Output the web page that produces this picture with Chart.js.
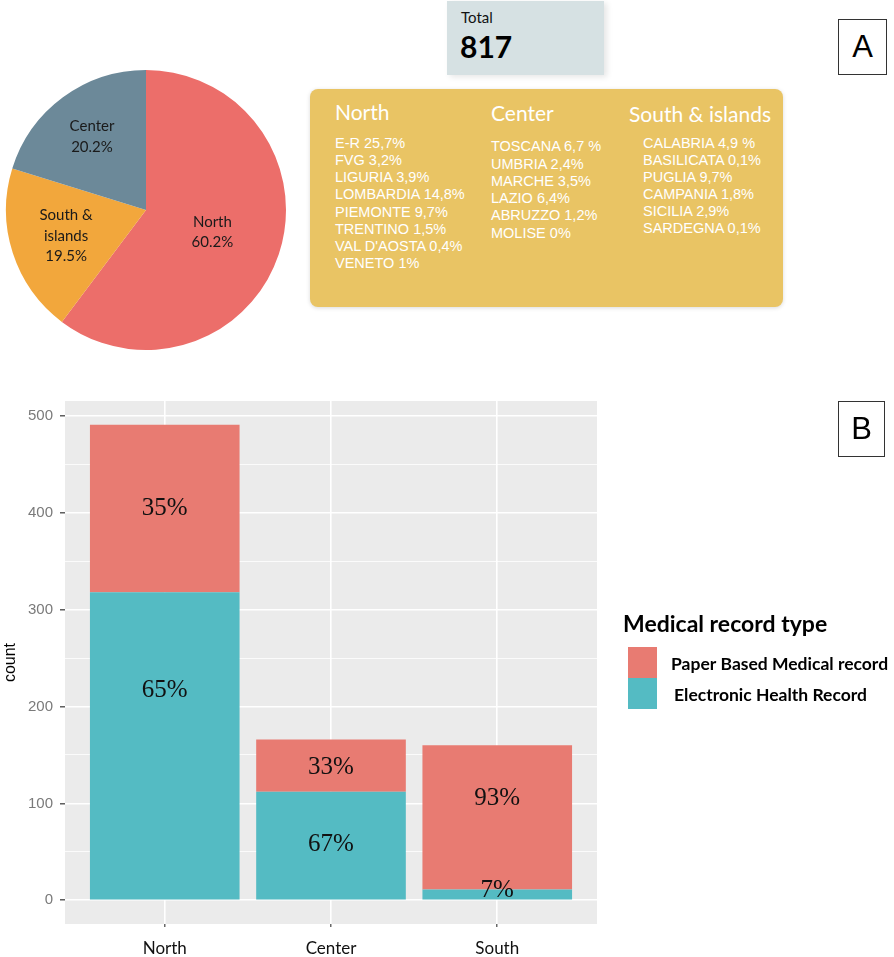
<!DOCTYPE html>
<html><head><meta charset="utf-8">
<script src="https://cdn.jsdelivr.net/npm/chart.js@4.4.1/dist/chart.umd.min.js"></script>
<style>
html,body{margin:0;padding:0;background:#fff;}
#page{position:relative;width:894px;height:957px;overflow:hidden;background:#fff;}
.abs{position:absolute;}
#total{left:447px;top:1px;width:157px;height:74px;background:#D6E1E3;box-shadow:3px 2px 6px rgba(0,0,0,0.10);}
#totalLbl{left:14px;top:7px;font:15px Lato;line-height:1.2;color:#111;}
#totalVal{left:13px;top:27px;font:bold 30px Lato;line-height:1.2;color:#000;}
#regions{left:310px;top:89px;width:473px;height:218px;background:#E9C464;border-radius:8px;box-shadow:0 1px 4px rgba(0,0,0,0.15);}
.head{font:21px Lato;color:#fff;line-height:24px;white-space:nowrap;}
.list{font:14.5px "Liberation Sans";color:#fff;white-space:nowrap;}
.tag{box-sizing:border-box;border:1.5px solid #333;font:31px "Liberation Sans";color:#000;display:flex;align-items:center;justify-content:center;}
</style></head>
<body>
<div id="page">
  <canvas id="pie" class="abs" width="292" height="300" style="left:0;top:60px"></canvas>
  <div id="total" class="abs"><div id="totalLbl" class="abs"></div><div id="totalVal" class="abs"></div></div>
  <div id="regions" class="abs"></div>
  <div class="abs tag" style="left:838px;top:19px;width:49px;height:56px">A</div>
  <canvas id="bar" class="abs" width="894" height="577" style="left:0;top:380px"></canvas>
  <div class="abs tag" style="left:838px;top:401px;width:47px;height:56px">B</div>
</div>
<script>
// ---------- Panel A data ----------
const pieCategories = ['North', 'South & islands', 'Center'];
const pieShares = [60.2, 19.5, 20.2];
const pieColors = ['#EC6E6A', '#F2A73C', '#6C8999'];
const pieLabelRadius = [0.5, 0.6, 0.65];
const totalLabel = 'Total';
const totalCount = 817;
const regionHeads = ['North', 'Center', 'South & islands'];
const northRegions = ['E-R 25,7%', 'FVG 3,2%', 'LIGURIA 3,9%', 'LOMBARDIA 14,8%', 'PIEMONTE 9,7%', 'TRENTINO 1,5%', "VAL D'AOSTA 0,4%", 'VENETO 1%'];
const centerRegions = ['TOSCANA 6,7 %', 'UMBRIA 2,4%', 'MARCHE 3,5%', 'LAZIO 6,4%', 'ABRUZZO 1,2%', 'MOLISE 0%'];
const southRegions = ['CALABRIA 4,9 %', 'BASILICATA 0,1%', 'PUGLIA 9,7%', 'CAMPANIA 1,8%', 'SICILIA 2,9%', 'SARDEGNA 0,1%'];

// ---------- Panel B data ----------
const categories = ['North', 'Center', 'South'];
const ehrCounts = [318, 112, 11];
const paperCounts = [173, 54, 149];
const seriesNames = ['Paper Based Medical record', 'Electronic Health Record'];
const legendTitle = 'Medical record type';
const yMajorTicks = [0, 100, 200, 300, 400, 500];
const yMinorTicks = [50, 150, 250, 350, 450];
const paperLabelAt = [405, 137, 105];
const ehrLabelAt = [217, 58, 10.6];

// ---------- HTML text blocks ----------
document.getElementById('totalLbl').textContent = totalLabel;
document.getElementById('totalVal').textContent = String(totalCount);
(function(){
  const box = document.getElementById('regions');
  const cols = [
    {head: regionHeads[0], hx: 25, hy: 10.5, list: northRegions, lx: 25, ly: 46, lh: 17.15},
    {head: regionHeads[1], hx: 181, hy: 11.5, list: centerRegions, lx: 181, ly: 49.3, lh: 17.3},
    {head: regionHeads[2], hx: 319, hy: 13, list: southRegions, lx: 333, ly: 46, lh: 17.1}
  ];
  cols.forEach(c => {
    const h = document.createElement('div');
    h.className = 'abs head'; h.style.left = c.hx + 'px'; h.style.top = c.hy + 'px';
    h.textContent = c.head; box.appendChild(h);
    const l = document.createElement('div');
    l.className = 'abs list'; l.style.left = c.lx + 'px'; l.style.top = c.ly + 'px';
    l.style.lineHeight = c.lh + 'px';
    c.list.forEach(t => { const d = document.createElement('div'); d.textContent = t; l.appendChild(d); });
    box.appendChild(l);
  });
})();

// ---------- Pie ----------
const pieLabelPlugin = {
  id: 'pieLabels',
  afterDatasetsDraw(chart) {
    const ctx = chart.ctx;
    const meta = chart.getDatasetMeta(0);
    ctx.save();
    ctx.font = '15px Lato';
    ctx.fillStyle = '#1a1a1a';
    ctx.textAlign = 'center';
    ctx.textBaseline = 'middle';
    meta.data.forEach((arc, i) => {
      const p = arc.getProps(['x', 'y', 'startAngle', 'endAngle', 'outerRadius'], true);
      const mid = (p.startAngle + p.endAngle) / 2;
      const r = p.outerRadius * pieLabelRadius[i];
      const cx = p.x + Math.cos(mid) * r;
      const cy = p.y + Math.sin(mid) * r;
      const name = pieCategories[i];
      const lines = name.includes(' & ') ? [name.split(' & ')[0] + ' &', name.split(' & ')[1]] : [name];
      lines.push(pieShares[i].toFixed(1) + '%');
      const lh = 20.5;
      const y0 = cy - (lines.length - 1) * lh / 2;
      lines.forEach((t, k) => ctx.fillText(t, cx, y0 + k * lh));
    });
    ctx.restore();
  }
};
new Chart(document.getElementById('pie'), {
  type: 'pie',
  data: {
    labels: pieCategories,
    datasets: [{data: pieShares, backgroundColor: pieColors, borderWidth: 0, hoverOffset: 0, radius: 140}]
  },
  options: {
    responsive: false, animation: false, devicePixelRatio: 1,
    layout: {padding: 0},
    plugins: {legend: {display: false}, tooltip: {enabled: false}}
  },
  plugins: [pieLabelPlugin]
});

// ---------- Bar ----------
const totals = categories.map((c, i) => ehrCounts[i] + paperCounts[i]);
const maxTotal = Math.max(...totals);
const PAPER = '#E87B72', EHR = '#54BBC3';

const panelBg = {
  id: 'panelBg',
  beforeDraw(chart) {
    const {ctx, chartArea: a} = chart;
    ctx.save(); ctx.fillStyle = '#EBEBEB';
    ctx.fillRect(a.left, a.top, a.right - a.left, a.bottom - a.top);
    ctx.restore();
  }
};
const pctLabels = {
  id: 'pctLabels',
  afterDatasetsDraw(chart) {
    const {ctx} = chart; const y = chart.scales.y;
    ctx.save();
    ctx.font = '25px "Liberation Serif"';
    ctx.fillStyle = '#111';
    ctx.textAlign = 'center'; ctx.textBaseline = 'middle';
    [[0, ehrCounts, ehrLabelAt], [1, paperCounts, paperLabelAt]].forEach(([di, vals, at]) => {
      chart.getDatasetMeta(di).data.forEach((bar, i) => {
        const pct = Math.round(vals[i] / totals[i] * 100) + '%';
        ctx.fillText(pct, bar.x, y.getPixelForValue(at[i]));
      });
    });
    ctx.restore();
  }
};
const ggLegend = {
  id: 'ggLegend',
  afterDraw(chart) {
    const ctx = chart.ctx;
    ctx.save();
    ctx.textAlign = 'left'; ctx.textBaseline = 'middle';
    ctx.font = 'bold 23px Lato'; ctx.fillStyle = '#000';
    ctx.fillText(legendTitle, 623, 245);
    [1, 0].forEach((di, k) => {
      const ds = chart.data.datasets[di];
      const top = 267 + k * 31;
      ctx.fillStyle = ds.backgroundColor;
      ctx.fillRect(628, top, 29, 31);
      ctx.fillStyle = '#000'; ctx.font = 'bold 17.5px Lato';
      ctx.fillText(ds.label, 671 + k * 3, top + 17.5);
    });
    ctx.restore();
  }
};

new Chart(document.getElementById('bar'), {
  type: 'bar',
  data: {
    datasets: [
      {label: seriesNames[1], data: categories.map((c, i) => ({x: i + 1, y: ehrCounts[i]})), backgroundColor: EHR, stack: 's', borderWidth: 0, barPercentage: 0.9, categoryPercentage: 1},
      {label: seriesNames[0], data: categories.map((c, i) => ({x: i + 1, y: paperCounts[i]})), backgroundColor: PAPER, stack: 's', borderWidth: 0, barPercentage: 0.9, categoryPercentage: 1}
    ]
  },
  options: {
    responsive: false, animation: false, devicePixelRatio: 1,
    layout: {padding: {left: 0, top: 21, right: 297, bottom: 0}},
    plugins: {legend: {display: false}, tooltip: {enabled: false}},
    scales: {
      x: {
        type: 'linear', min: 0.4, max: 3.6, offset: false,
        afterBuildTicks: s => { s.ticks = categories.map((c, i) => ({value: i + 1})); },
        afterFit: s => { s.height = 33; },
        ticks: {callback: v => categories[v - 1], color: '#111', font: {family: 'Lato', size: 17}, padding: 11, autoSkip: false, maxRotation: 0},
        grid: {offset: false, color: '#FFFFFF', lineWidth: 1.6, tickLength: 3, tickColor: '#444', tickWidth: 1.2},
        border: {display: false}
      },
      y: {
        stacked: true,
        min: -0.05 * maxTotal, max: 1.05 * maxTotal,
        afterBuildTicks: s => { s.ticks = yMajorTicks.concat(yMinorTicks).sort((a, b) => a - b).map(v => ({value: v})); },
        afterFit: s => { s.width = 65; },
        ticks: {
          callback: v => (yMajorTicks.includes(v) ? String(v) : ''),
          color: '#7A7A7A', font: {family: 'Liberation Sans', size: 15}, padding: 7
        },
        grid: {
          color: '#FFFFFF',
          lineWidth: c => (yMajorTicks.includes(c.tick.value) ? 1.6 : 0.8),
          tickLength: 5,
          tickColor: c => (yMajorTicks.includes(c.tick.value) ? '#444' : 'rgba(0,0,0,0)'),
          tickWidth: 1.3
        },
        border: {display: false},
        title: {display: true, text: 'count', color: '#000', font: {family: 'Liberation Sans', size: 16}, padding: {top: 1, bottom: 0}}
      }
    }
  },
  plugins: [panelBg, pctLabels, ggLegend]
});
</script>
</body></html>
